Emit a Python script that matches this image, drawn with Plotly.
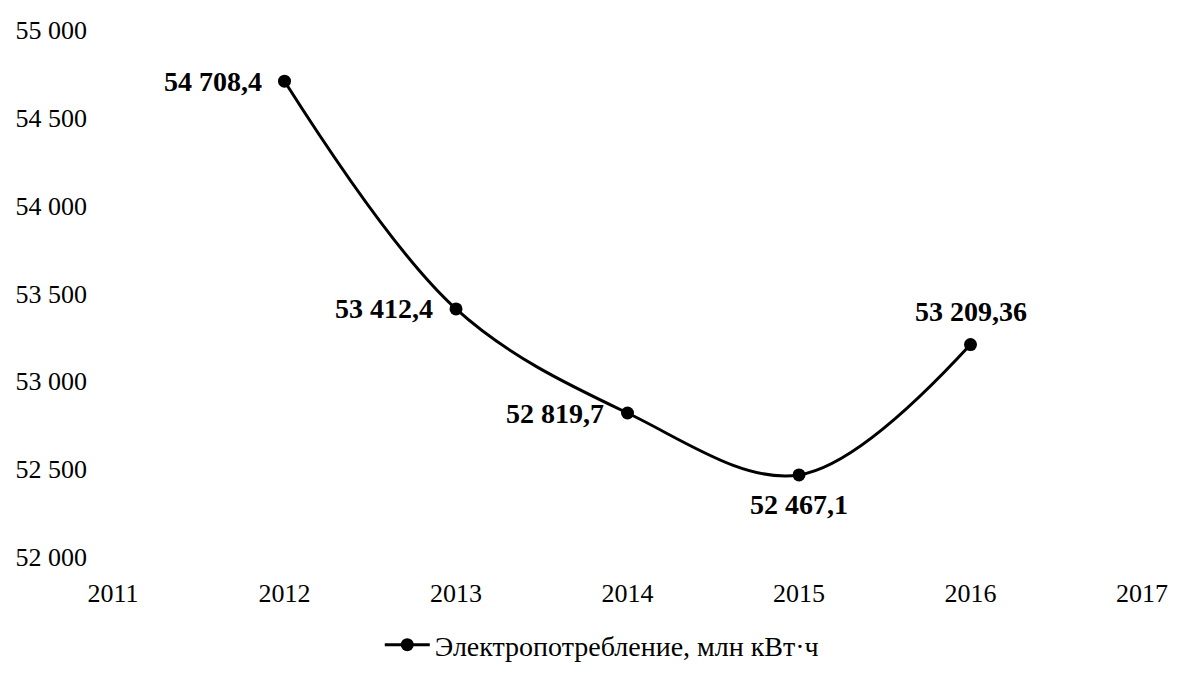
import plotly.graph_objects as go

years = [2012, 2013, 2014, 2015, 2016]
values = [54708.4, 53412.4, 52819.7, 52467.1, 53209.36]
value_labels = ["54 708,4", "53 412,4", "52 819,7", "52 467,1", "53 209,36"]
series_name = "Электропотребление, млн кВт·ч"

x_ticks = [2011, 2012, 2013, 2014, 2015, 2016, 2017]
x_tick_labels = [str(v) for v in x_ticks]
y_ticks = [52000, 52500, 53000, 53500, 54000, 54500, 55000]
y_tick_labels = ["52 000", "52 500", "53 000", "53 500", "54 000", "54 500", "55 000"]

FONT = "Liberation Serif, Times New Roman, serif"

# label placement per point: (xanchor, xshift, yshift)
placement = [("right", -21, 0), ("right", -21, 0), ("right", -22, 0),
             ("center", 0, -30), ("center", 0, 33)]

fig = go.Figure()
fig.add_trace(go.Scatter(
    x=years, y=values,
    mode="lines+markers",
    name=series_name,
    line=dict(color="black", width=3, shape="spline", smoothing=1),
    marker=dict(color="black", size=13),
    cliponaxis=False,
))

for xv, yv, lab, (anc, xs, ys) in zip(years, values, value_labels, placement):
    fig.add_annotation(
        x=xv, y=yv, text=lab, showarrow=False,
        xanchor=anc, yanchor="middle", xshift=xs, yshift=ys,
        font=dict(family=FONT, size=28, color="black", weight="bold"),
    )

fig.update_layout(
    width=1192, height=677,
    margin=dict(l=113, r=50, t=30, b=120, autoexpand=False),
    paper_bgcolor="white", plot_bgcolor="white",
    font=dict(family=FONT, size=26, color="black"),
    showlegend=True,
    legend=dict(
        orientation="h", x=0.475, xanchor="center", y=-0.167, yanchor="middle",
        font=dict(family=FONT, size=28, color="black"),
        itemwidth=45,
    ),
    xaxis=dict(
        range=[2011, 2017], tickmode="array", tickvals=x_ticks, ticktext=x_tick_labels,
        showgrid=False, zeroline=False, showline=False, ticks="",
        ticklabelstandoff=18, automargin=False,
        tickfont=dict(family=FONT, size=26, color="black"),
    ),
    yaxis=dict(
        range=[52000, 55000], tickmode="array", tickvals=y_ticks, ticktext=y_tick_labels,
        showgrid=False, zeroline=False, showline=False, ticks="",
        ticklabelstandoff=25, automargin=False,
        tickfont=dict(family=FONT, size=26, color="black"),
    ),
)

fig.write_html("out.html")
